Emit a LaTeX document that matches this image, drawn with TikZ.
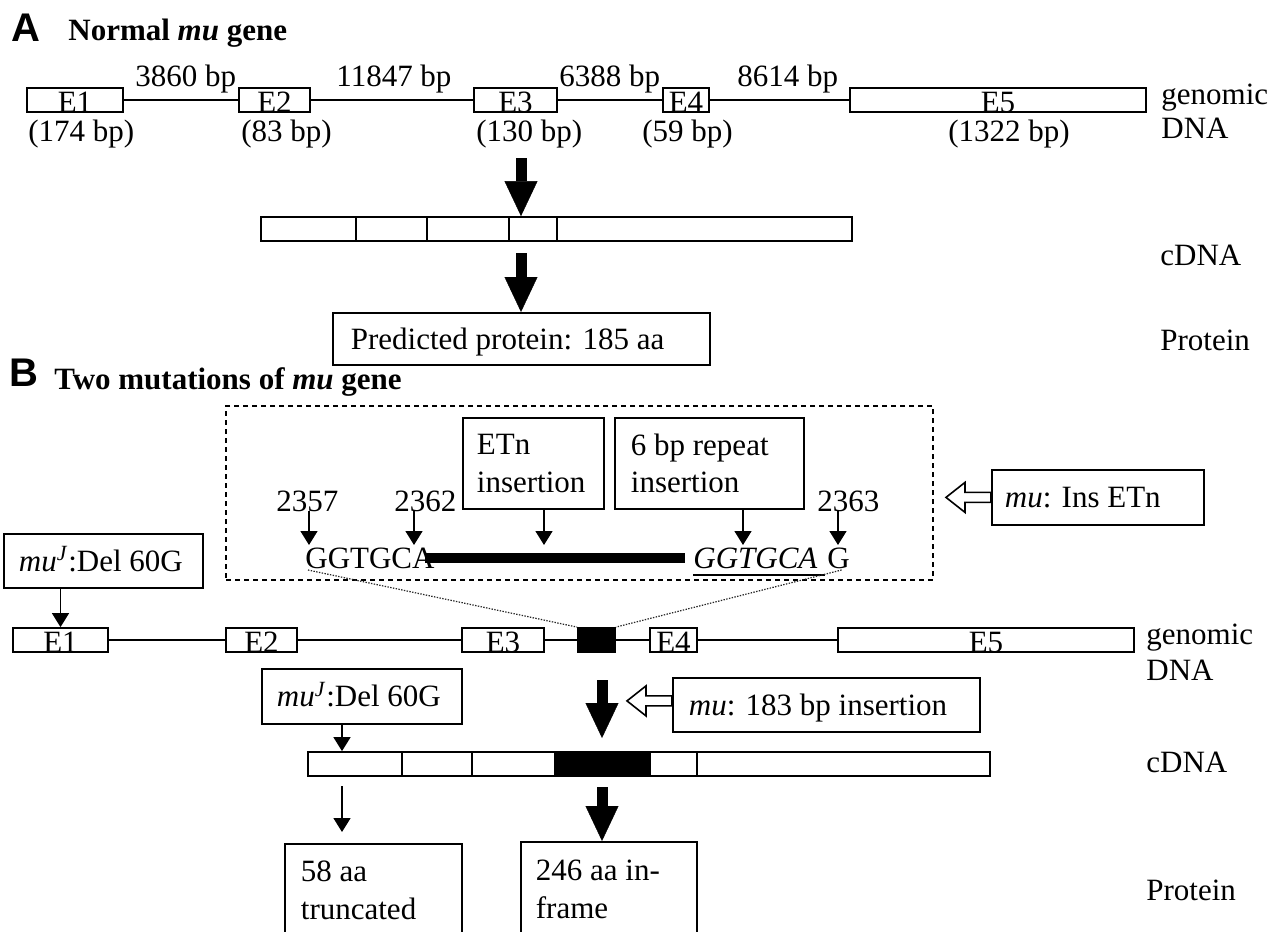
\documentclass[tikz,border=0pt]{standalone}
\usepackage{fontspec}
\setmainfont{Liberation Serif}
\newfontfamily\headsans{Liberation Sans}
\usetikzlibrary{arrows.meta,calc,fit}

\begin{document}
\begin{tikzpicture}[x=0.5pt, y=-0.5pt,
  every node/.style={font=\fontsize{15.5pt}{18.75pt}\selectfont},
  boxline/.style={draw, line width=0.9pt},
  exon/.style={boxline, inner sep=0pt, minimum height=12pt, text height=12pt, text depth=0pt},
  seg/.style={boxline, inner sep=0pt, minimum height=12pt},
  insertseg/.style={seg, fill=black},
  intron/.style={line width=0.8pt},
  txt/.style={anchor=base west, inner sep=0pt},
  tbox/.style={boxline, anchor=north west, align=flush left, inner ysep=0pt},
  onebox/.style={tbox, text height=10.5pt, text depth=0pt},
  arr/.style={line width=0.8pt, -{Triangle[width=8.5pt,length=7pt]}},
  bigarr/.style={line width=5.5pt, -{Triangle[width=16.5pt,length=17.5pt,line width=0.2pt]}},
  hollow/.style={line width=0.8pt, fill=white, line join=miter},
  dashbox/.style={draw, line width=0.8pt, dash pattern=on 2.5pt off 2pt, inner sep=0pt},
  dotline/.style={line width=0.6pt, black!85, dash pattern=on 0.7pt off 0.7pt},
  panelletter/.style={anchor=base west, inner sep=0pt, font=\fontsize{20pt}{24pt}\selectfont\headsans\bfseries},
  paneltitle/.style={anchor=base west, inner sep=0pt, font=\fontsize{15.5pt}{18.75pt}\selectfont\bfseries},
]
\fill[white] (0,0) rectangle (1287,932);
\useasboundingbox (0,0) rectangle (1287,932);

% ---------------- Panel A: normal gene ----------------
\node[panelletter] (la) at (11,41) {A};
\node[paneltitle] (ta) at (68,40) {Normal \textit{mu} gene};

% exons and introns of the genomic DNA
\node[exon, minimum width=48pt]   (a1) at (75,100)    {E1};
\node[exon, minimum width=35.5pt] (a2) at (274.5,100) {E2};
\node[exon, minimum width=41.5pt] (a3) at (515.5,100) {E3};
\node[exon, minimum width=23pt]   (a4) at (686,100)   {E4};
\node[exon, minimum width=148pt]  (a5) at (998,100)   {E5};
\draw[intron] (a1) -- (a2) (a2) -- (a3) (a3) -- (a4) (a4) -- (a5);

\node[txt] (i1) at (135,86) {3860 bp};
\node[txt] (i2) at (336,86) {11847 bp};
\node[txt] (i3) at (559,86) {6388 bp};
\node[txt] (i4) at (737,86) {8614 bp};

\node[txt] (s1) at (28,141)  {(174 bp)};
\node[txt] (s2) at (241,141) {(83 bp)};
\node[txt] (s3) at (476,141) {(130 bp)};
\node[txt] (s4) at (642,141) {(59 bp)};
\node[txt] (s5) at (948,141) {(1322 bp)};

\node[txt] (gA) at (1161,104) {genomic};
\node[txt] (dA) at (1161,138) {DNA};
\node[txt] (cA) at (1160,265) {cDNA};
\node[txt] (pA) at (1160,350) {Protein};

% cDNA built from the five exons
\node[seg, minimum width=47.5pt]  (c1) at (308.5,229) {};
\node[seg, minimum width=35.5pt]  (c2) at (391.5,229) {};
\node[seg, minimum width=41pt]    (c3) at (468,229)   {};
\node[seg, minimum width=24pt]    (c4) at (533,229)   {};
\node[seg, minimum width=147.5pt] (c5) at (704.5,229) {};

\coordinate (aA1) at (521,158);
\draw[bigarr] (aA1) -- (c4.north -| aA1);

\node[onebox, text width=170.5pt, inner xsep=9pt, minimum height=26pt] (protA) at (332,312) {Predicted protein: 185 aa};
\coordinate (aA2) at (521,253);
\draw[bigarr] (aA2) -- (protA.north -| aA2);

% ---------------- Panel B: the two mutations ----------------
\node[panelletter] (lb) at (9,386) {B};
\node[paneltitle] (tb) at (54,389) {Two mutations of \textit{mu} gene};

% enlarged view of the insertion site
\node[dashbox, fit={(226,406) (933,580)}] (detail) {};

\node[tbox, text width=56.5pt, inner xsep=7pt, minimum height=45.5pt] (etn) at (462,417) {ETn\\insertion};
\node[tbox, text width=78.5pt, inner xsep=8pt, minimum height=45.5pt] (rep6) at (614,417) {6 bp repeat\\insertion};

\node[txt] (n1) at (276,511) {2357};
\node[txt] (n2) at (394,511) {2362};
\node[txt] (n3) at (817,511) {2363};

\node[txt] (gg)   at (305,568) {GGTGCA};
\node[txt] (rep)  at (693,568) {\textit{GGTGCA}};
\node[txt] (gEnd) at (827,568) {G};

\coordinate (p1) at (309,545);
\coordinate (p2) at (414,545);
\coordinate (p3) at (544,545);
\coordinate (p4) at (743,545);
\coordinate (p5) at (838,545);
\draw[arr] (n1.base -| p1) -- (p1);
\draw[arr] (n2.base -| p2) -- (p2);
\draw[arr] (etn.south -| p3) -- (p3);
\draw[arr] (rep6.south -| p4) -- (p4);
\draw[arr] (n3.base -| p5) -- (p5);

% inserted element and underlined duplicated repeat
\coordinate (barL) at (425,558);
\coordinate (barR) at (685,558);
\draw[line width=5pt] (barL) -- (barR);
\draw[line width=0.6pt] ([yshift=-3.5pt]rep.base west) -- ([yshift=-3.5pt,xshift=-1pt]gEnd.base west);

\node[onebox, text width=93pt, inner xsep=6.5pt, minimum height=27.5pt] (muIns) at (991,469) {\textit{mu}: Ins ETn};
\draw[hollow] (muIns.west) ++(0,-5) -- ++(-26,0) -- ++(0,-10) -- ++(-19,15) -- ++(19,15) -- ++(0,-10) -- ++(26,0) -- cycle;

\node[onebox, text width=84.5pt, inner xsep=7.5pt, minimum height=27pt] (muJ1) at (3,533) {\textit{mu}\textsuperscript{\textit{J}}:Del 60G};

% mutant genomic DNA
\node[exon, minimum width=47.5pt] (b1) at (60.5,640)  {E1};
\node[exon, minimum width=35.5pt] (b2) at (261.5,640) {E2};
\node[exon, minimum width=41pt]   (b3) at (503,640)   {E3};
\node[insertseg, minimum width=18.5pt] (bx) at (596.5,640) {};
\node[exon, minimum width=23.5pt] (b4) at (673.5,640) {E4};
\node[exon, minimum width=148pt]  (b5) at (986,640)   {E5};
\draw[intron] (b1) -- (b2) (b2) -- (b3) (b3) -- (bx) (bx) -- (b4) (b4) -- (b5);

\draw[arr] (muJ1.south -| b1) -- (b1.north);
\draw[dotline] ([shift={(1.5pt,-1pt)}]gg.base west) -- (bx.north west);
\draw[dotline] ([shift={(1.5pt,-1pt)}]gEnd.base) -- (bx.north east);

\node[txt] (gB) at (1146,644) {genomic};
\node[txt] (dB) at (1146,680) {DNA};
\node[txt] (cB) at (1146,772) {cDNA};
\node[txt] (pB) at (1146,900) {Protein};

\node[onebox, text width=85pt, inner xsep=7.5pt, minimum height=27.5pt] (muJ2) at (261,668) {\textit{mu}\textsuperscript{\textit{J}}:Del 60G};
\node[onebox, text width=137.5pt, inner xsep=8pt, minimum height=27pt] (mu183) at (672,677) {\textit{mu}: 183 bp insertion};
\draw[hollow] ([yshift=2pt]mu183.west) ++(0,-5) -- ++(-26,0) -- ++(0,-10) -- ++(-19,15) -- ++(19,15) -- ++(0,-10) -- ++(26,0) -- cycle;

% mutant cDNA
\node[seg, minimum width=47pt]    (d1) at (355,764)   {};
\node[seg, minimum width=35pt]    (d2) at (437,764)   {};
\node[seg, minimum width=41.5pt]  (d3) at (513.5,764) {};
\node[insertseg, minimum width=47.5pt] (dx) at (602.5,764) {};
\node[seg, minimum width=23.5pt]  (d4) at (673.5,764) {};
\node[seg, minimum width=146.5pt] (d5) at (843.5,764) {};

\coordinate (delx) at (342,0);
\draw[arr] (muJ2.south -| delx) -- (d1.north -| delx);

\coordinate (aB1)  at (602,680);
\coordinate (aB1e) at (602,738);
\draw[bigarr] (aB1) -- (aB1e);

% predicted proteins
\coordinate (t1) at (342,786);
\coordinate (t2) at (342,832);
\draw[arr] (t1) -- (t2);

\node[tbox, text width=72.5pt, inner xsep=8pt, minimum height=46.5pt] (trunc) at (284,843) {58 aa\\truncated};
\node[tbox, text width=73pt, inner xsep=7.5pt, minimum height=47.5pt] (infr) at (520,841) {246 aa in-\\frame};

\coordinate (aB2) at (602,787);
\draw[bigarr] (aB2) -- (infr.north -| aB2);
\end{tikzpicture}
\end{document}
